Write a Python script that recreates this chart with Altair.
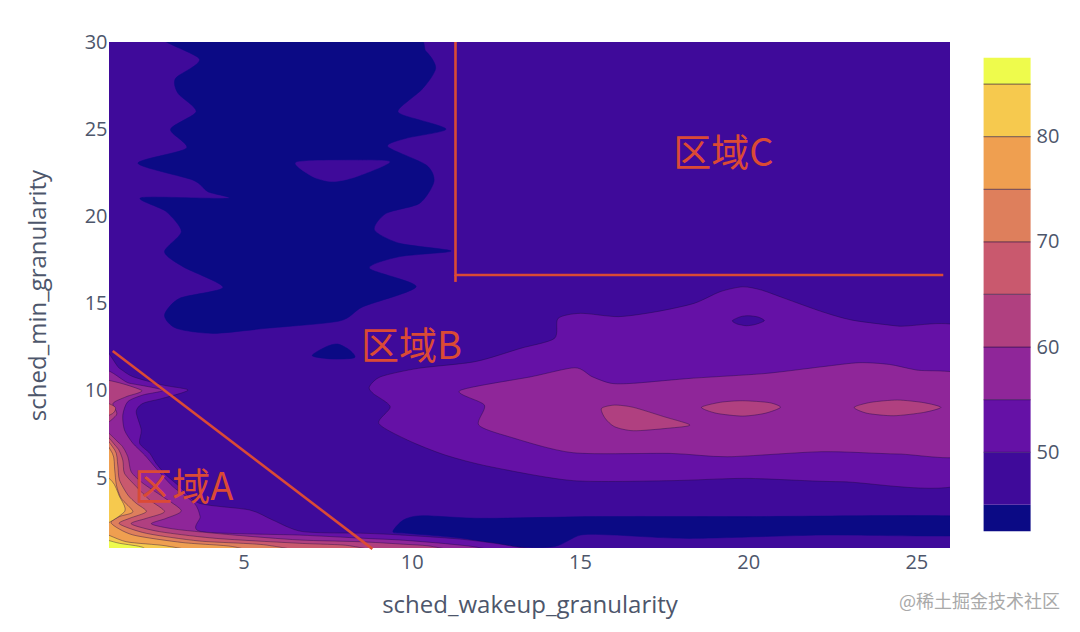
import altair as alt
import pandas as pd

LEVEL_EDGES = [42.5, 45, 50, 55, 60, 65, 70, 75, 80, 85, 87.5]
BAND_COLORS = ["#0b0a85", "#3f0a9a", "#6511a6", "#8f2699", "#b04080", "#c9596e", "#de7f5c", "#ef9f50", "#f6c94e", "#eefb4c"]
COLORBAR_TICKS = [50, 60, 70, 80]
X_TICKS = [5, 10, 15, 20, 25]
Y_TICKS = [5, 10, 15, 20, 25, 30]

# contour outlines, (wakeup, min) pairs
UPPER_LOW = [(2.6,30.6),(3.69,29.02),(2.98,27.92),(3.05,27.06),(3.59,26.01),(2.83,25.0),(3.30,23.91),(1.86,23.05),(3.49,22.09),(3.94,21.42),(4.53,21.04),(1.96,21.08),(2.70,20.28),(3.15,19.13),(2.65,17.98),(3.20,17.12),(4.39,15.94),(3.10,15.31),(2.65,14.35),(3.00,13.59),(4.09,13.30),(5.67,13.59),(7.85,14.01),(8.55,14.83),(10.13,15.98),(8.74,17.03),(9.64,17.70),(11.17,18.02),(9.64,18.46),(8.89,19.23),(9.24,20.18),(10.23,20.75),(10.66,22.0),(10.43,22.95),(9.29,24.0),(9.83,24.48),(11.02,25.01),(9.73,25.82),(9.64,26.2),(10.33,27.34),(10.71,28.49),(10.43,29.45),(9.6,30.6)]
UPPER_ISLAND = [(6.56,23.10),(7.06,22.28),(7.65,22.0),(8.35,22.28),(9.34,23.14),(7.95,23.22)]
SMALL_LOW = [(7.04,12.02),(7.46,12.54),(7.80,12.69),(8.15,12.35),(8.30,11.91),(7.65,11.83)]
BOTTOM_STRIP = [(9.44,1.93),(9.75,2.6),(10.31,2.85),(12.11,2.7),(15.47,2.8),(19.95,2.8),(26.6,2.8),(26.6,1.74),(22.2,1.74),(18.27,1.55),(16.03,1.74),(15.02,1.74),(14.24,1.08),(13.0,1.08),(11.55,1.55),(9.87,1.84)]
RIGHT_50 = [(26.6,13.25),(24.44,13.72),(23.09,14.06),(22.2,14.54),(21.08,15.31),(20.40,15.78),(19.84,15.97),(19.17,15.69),(18.39,15.02),(17.26,14.54),(16.14,14.26),(15.02,14.45),(14.35,14.16),(14.24,13.01),(13.23,12.44),(11.88,11.68),(10.20,11.30),(9.08,10.82),(8.74,10.24),(8.85,9.86),(9.36,9.10),(9.02,8.14),(9.87,7.19),(10.99,6.33),(12.33,5.66),(14.80,4.86),(17.71,4.86),(19.95,4.99),(22.76,4.80),(26.6,4.93)]
RIGHT_HOLE = [(19.53,14.03),(19.78,14.26),(20.01,14.31),(20.29,14.24),(20.48,14.03),(20.23,13.82),(19.95,13.74),(19.67,13.84)]
RIGHT_55 = [(26.6,10.7),(25.0,11.2),(24.2,11.52),(23.3,11.62),(22.2,11.39),(20.5,11.0),(18.27,10.72),(16.59,10.44),(15.92,10.44),(15.36,10.82),(14.85,11.33),(13.56,10.82),(11.43,10.02),(12.16,9.19),(11.99,8.05),(12.89,7.38),(14.8,6.46),(17.71,6.42),(19.39,6.23),(22.2,6.52),(24.44,6.39),(26.6,6.42)]
ISLAND_A = [(15.64,9.0),(16.03,9.19),(16.59,9.06),(17.49,8.53),(18.27,8.05),(17.6,7.86),(16.59,7.72),(16.03,7.95),(15.75,8.43)]
ISLAND_B = [(18.61,9.06),(19.17,9.35),(19.84,9.44),(20.63,9.33),(20.96,9.06),(20.5,8.72),(19.84,8.56),(19.06,8.72)]
ISLAND_C = [(23.15,9.06),(23.65,9.35),(24.44,9.48),(25.22,9.33),(25.73,9.06),(25.22,8.77),(24.33,8.58),(23.54,8.72)]
LEFT_50 = [(0.6,12.2),(1.31,11.3),(1.71,10.82),(2.6,10.34),(3.35,10.05),(2.6,9.58),(2.01,9.29),(1.81,8.81),(1.96,7.76),(1.91,7.0),(2.21,6.43),(2.4,5.85),(2.7,5.18),(3.1,4.52),(3.69,3.56),(5.18,3.18),(5.87,2.6),(6.76,1.94),(8.64,1.84),(9.64,1.75),(11.5,1.5),(13.0,1.1),(13.6,0.6),(0.6,0.6)]
LEFT_55 = [(0.6,10.75),(1.61,10.44),(2.6,10.05),(2.01,9.77),(1.56,9.39),(1.41,8.62),(1.46,7.76),(1.71,7.0),(2.06,6.33),(2.4,5.57),(2.9,4.52),(3.54,3.56),(3.71,2.8),(3.74,1.94),(6.66,1.74),(8.64,1.55),(9.64,1.46),(11.0,1.25),(12.0,1.02),(12.3,0.6),(0.6,0.6)]
LEFT_60_TOP = [(0.6,10.6),(1.96,10.05),(1.51,9.67),(1.12,9.29),(1.22,8.62),(0.6,7.9)]
LEFT_65_TOP = [(0.6,9.5),(1.17,9.1),(1.1,8.7),(0.6,8.4)]
LEFT_60 = [(0.6,7.6),(1.31,7.0),(1.56,6.23),(1.66,5.37),(2.01,4.71),(2.6,3.94),(3.15,3.14),(2.7,2.7),(2.26,2.38),(3.0,2.07),(4.68,1.75),(6.66,1.46),(8.45,1.36),(9.64,1.23),(10.63,1.08),(10.9,0.6),(0.6,0.6)]
LEFT_65 = [(0.6,7.5),(1.22,6.81),(1.41,6.04),(1.46,5.28),(1.81,4.52),(2.21,3.75),(2.65,3.08),(2.11,2.7),(1.66,2.38),(2.5,1.94),(4.19,1.55),(6.66,1.27),(8.15,1.13),(8.7,0.6),(0.6,0.6)]
LEFT_70 = [(0.6,7.4),(1.17,6.62),(1.26,5.76),(1.31,4.9),(1.56,4.04),(1.81,3.56),(2.11,3.08),(1.61,2.7),(1.31,2.38),(2.11,1.84),(3.69,1.4),(5.67,1.17),(6.7,0.6),(0.6,0.6)]
LEFT_75 = [(0.6,7.3),(1.10,6.43),(1.17,5.47),(1.22,4.61),(1.36,3.85),(1.71,3.08),(1.31,2.8),(1.07,2.41),(1.71,1.75),(3.2,1.31),(4.68,1.08),(5.2,0.6),(0.6,0.6)]
LEFT_80_UP = [(0.6,5.4),(1.1,4.8),(1.3,4.0),(1.46,3.08),(0.6,2.3)]
LEFT_80_LOW = [(0.6,1.95),(1.51,1.36),(2.7,1.12),(3.9,0.6),(0.6,0.6)]
LEFT_85 = [(0.6,1.55),(1.31,1.27),(2.0,1.04),(2.1,0.6),(0.6,0.6)]

# (outline, band index, draw contour line)
PAINT_ORDER = [
    (UPPER_LOW, 0, False), (UPPER_ISLAND, 1, False), (SMALL_LOW, 0, False), (BOTTOM_STRIP, 0, False),
    (RIGHT_50, 2, True), (RIGHT_HOLE, 1, True), (RIGHT_55, 3, True),
    (ISLAND_A, 4, True), (ISLAND_B, 4, True), (ISLAND_C, 4, True),
    (LEFT_50, 2, True), (LEFT_55, 3, True), (LEFT_60_TOP, 4, True), (LEFT_65_TOP, 5, True),
    (LEFT_60, 4, True), (LEFT_65, 5, True), (LEFT_70, 6, True), (LEFT_75, 7, True),
    (LEFT_80_UP, 8, True), (LEFT_80_LOW, 8, True), (LEFT_85, 9, True),
]

DIAGONAL_X = [1.11, 8.83]
DIAGONAL_Y = [12.29, 0.95]
BOX_X = [11.3, 11.3, 25.8]
BOX_Y = [30, 16.65, 16.65]
STUB_X = [11.3, 11.3]
STUB_Y = [16.65, 16.25]
LABELS = ["区域A", "区域B", "区域C"]
LABEL_X = [3.22, 9.99, 19.26]
LABEL_Y = [4.4, 12.48, 23.55]
WATERMARK = "@稀土掘金技术社区"

RED = "#db4a35"
INK = "#4d566b"
FONT = "Open Sans"
xs = alt.Scale(domain=[1, 26], nice=False, zero=False)
ys = alt.Scale(domain=[1, 30], nice=False, zero=False)
x_axis = alt.Axis(values=X_TICKS, grid=False, domain=False, ticks=False, labelPadding=4, labelFontSize=20,
                  labelColor=INK, labelFont=FONT, titleFont=FONT, titleFontSize=24, titleFontWeight="normal",
                  titleColor=INK, titlePadding=21, title="sched_wakeup_granularity")
y_axis = alt.Axis(values=Y_TICKS, grid=False, domain=False, ticks=False, labelPadding=2, labelFontSize=20,
                  labelColor=INK, labelFont=FONT, titleFont=FONT, titleFontSize=24, titleFontWeight="normal",
                  titleColor=INK, titlePadding=34, title="sched_min_granularity")
X = alt.X("x:Q", scale=xs, axis=x_axis)
Y = alt.Y("y:Q", scale=ys, axis=y_axis)

layers = []
for outline, band, contour in PAINT_ORDER:
    df = pd.DataFrame(outline, columns=["x", "y"])
    df["i"] = range(len(df))
    kw = dict(stroke="#1a0a40", strokeWidth=1, strokeOpacity=0.4) if contour else dict(stroke=BAND_COLORS[band], strokeWidth=0.5)
    layers.append(alt.Chart(df).mark_line(clip=True, fill=BAND_COLORS[band], interpolate="cardinal-closed", tension=0.25, **kw)
                  .encode(x=X, y=Y, order="i:Q"))

for px, py in [(DIAGONAL_X, DIAGONAL_Y), (BOX_X, BOX_Y), (STUB_X, STUB_Y)]:
    df = pd.DataFrame({"x": px, "y": py, "i": range(len(px))})
    layers.append(alt.Chart(df).mark_line(color=RED, strokeWidth=2.6, clip=False).encode(x=X, y=Y, order="i:Q"))

layers.append(alt.Chart(pd.DataFrame({"t": LABELS, "x": LABEL_X, "y": LABEL_Y})).mark_text(
    font="Noto Sans CJK SC", fontSize=38, color=RED, align="center", baseline="middle"
).encode(x=X, y=Y, text="t:N"))

layers.append(alt.Chart(pd.DataFrame({"t": [WATERMARK]})).mark_text(
    font="Noto Sans CJK SC", fontSize=18, color="#a9a9a9", align="right", baseline="middle"
).encode(x=alt.value(951), y=alt.value(561), text="t:N"))

main = alt.layer(*layers)

cb_scale = alt.Scale(domain=[40.9, 89.0], nice=False, zero=False)
cb_axis = alt.Axis(orient="right", values=COLORBAR_TICKS, grid=False, domain=False, ticks=False, offset=84,
                   labelPadding=2, labelFontSize=20, labelColor=INK, labelFont=FONT, title=None)
bar_df = pd.DataFrame({"lo": LEVEL_EDGES[:-1], "hi": LEVEL_EDGES[1:], "c": BAND_COLORS})
bars = alt.Chart(bar_df).mark_rect().encode(
    x=alt.value(874.6), x2=alt.value(921.6),
    y=alt.Y("lo:Q", scale=cb_scale, axis=cb_axis),
    y2="hi:Q",
    fill=alt.Fill("c:N", scale=None),
)
rules = alt.Chart(pd.DataFrame({"v": LEVEL_EDGES[2:-1]})).mark_rule(color="#1a0a40", opacity=0.5, strokeWidth=1.2).encode(
    x=alt.value(874.6), x2=alt.value(921.6),
    y=alt.Y("v:Q", scale=cb_scale, axis=cb_axis),
)
bar = alt.layer(bars, rules)

chart = alt.layer(main, bar).resolve_scale(y="independent").properties(
    width=841, height=506,
    autosize=alt.AutoSizeParams(type="none"),
    padding={"left": 101, "top": 34, "right": 120, "bottom": 76},
).configure_view(fill=BAND_COLORS[1], stroke=None)

chart.save("out.html", embed_options={"renderer": "svg", "actions": False})
